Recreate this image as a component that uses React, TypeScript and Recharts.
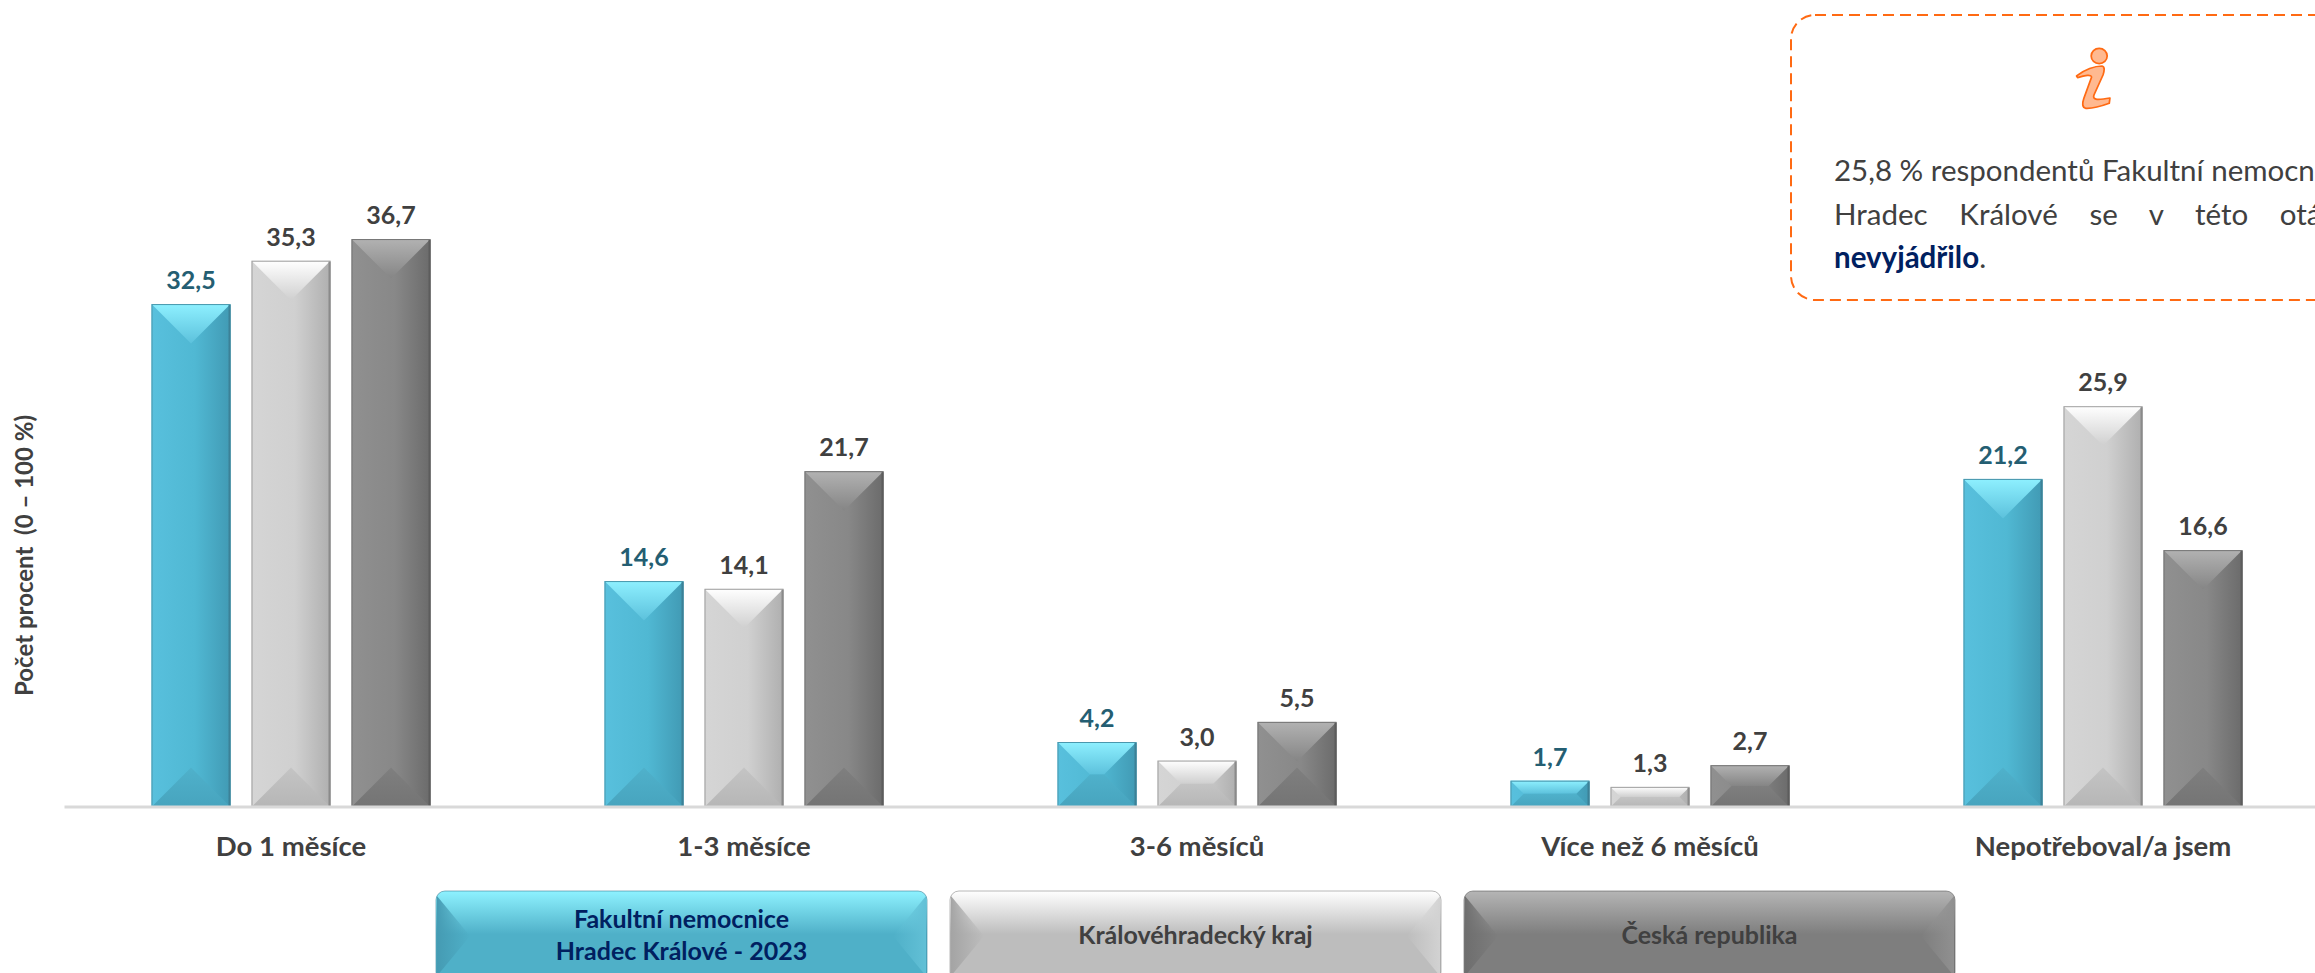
import React from 'react';
import { BarChart, Bar, XAxis, YAxis, LabelList, Legend } from 'recharts';

const categories = ['Do 1 měsíce', '1-3 měsíce', '3-6 měsíců', 'Více než 6 měsíců', 'Nepotřeboval/a jsem'];
const fakultni = [32.5, 14.6, 4.2, 1.7, 21.2];
const kraj = [35.3, 14.1, 3.0, 1.3, 25.9];
const republika = [36.7, 21.7, 5.5, 2.7, 16.6];

const seriesNames = ['Fakultní nemocnice\nHradec Králové - 2023', 'Královéhradecký kraj', 'Česká republika'];

const rows = categories.map((name, i) => ({
    name,
    fakultni: fakultni[i],
    kraj: kraj[i],
    republika: republika[i],
}));

const FONT = 'Lato, sans-serif';
const TEXT = '#404040';

const themes = {
    blue: {
        id: 'blue', stroke: '#4a97ad', edge: '#3c8197',
        body: ['#58c0dd', '#50b8d3', '#419ab4'], top: ['#8ef0ff', '#5cc1dc'], bottom: ['#4fb1cb', '#47a4be'],
        legendTop: '#8ef2ff', legendMid: '#4fb0c8', sideL: '#459bb3', sideR: '#62c0d6', legendText: '#002060',
    },
    light: {
        id: 'light', stroke: '#a0a0a0', edge: '#8a8a8a',
        body: ['#d5d5d5', '#d0d0d0', '#afafaf'], top: ['#ffffff', '#cfcfcf'], bottom: ['#c4c4c4', '#b6b6b6'],
        legendTop: '#ffffff', legendMid: '#bdbdbd', sideL: '#a4a4a4', sideR: '#d2d2d2', legendText: TEXT,
    },
    dark: {
        id: 'dark', stroke: '#757575', edge: '#5c5c5c',
        body: ['#909090', '#888888', '#6b6b6b'], top: ['#b2b2b2', '#858585'], bottom: ['#7f7f7f', '#747474'],
        legendTop: '#b5b5b5', legendMid: '#7e7e7e', sideL: '#6e6e6e', sideR: '#909090', legendText: TEXT,
    },
};
const themeList = [themes.blue, themes.light, themes.dark];

function gradients() {
    return themeList.map((t) => (
        <React.Fragment key={t.id}>
            <linearGradient id={`${t.id}-body`} x1="0" y1="0" x2="1" y2="0">
                <stop offset="0%" stopColor={t.body[0]} />
                <stop offset="55%" stopColor={t.body[1]} />
                <stop offset="100%" stopColor={t.body[2]} />
            </linearGradient>
            <linearGradient id={`${t.id}-top`} x1="0" y1="0" x2="0" y2="1">
                <stop offset="0%" stopColor={t.top[0]} />
                <stop offset="100%" stopColor={t.top[1]} />
            </linearGradient>
            <linearGradient id={`${t.id}-bottom`} x1="0" y1="0" x2="0" y2="1">
                <stop offset="0%" stopColor={t.bottom[0]} />
                <stop offset="100%" stopColor={t.bottom[1]} />
            </linearGradient>
        </React.Fragment>
    ));
}

// Bar with a pillow bevel: lit top wedge, darker bottom wedge
function BevelBar(props: any) {
    const { x, y, width, height, theme } = props;
    if (!height || height <= 0) return null;
    const d = Math.min(width, height) / 2;
    const right = x + width;
    const base = y + height;
    return (
        <g>
            <rect x={x} y={y} width={width} height={height} fill={`url(#${theme.id}-body)`} />
            <polygon
                points={`${x},${y} ${right},${y} ${right - d},${y + d} ${x + d},${y + d}`}
                fill={`url(#${theme.id}-top)`}
            />
            <polygon
                points={`${x},${base} ${right},${base} ${right - d},${base - d} ${x + d},${base - d}`}
                fill={`url(#${theme.id}-bottom)`}
            />
            <rect x={x + 0.5} y={y + 0.5} width={width - 1} height={height - 1} fill="none" stroke={theme.stroke} strokeWidth={1} />
            <line x1={right - 1} y1={y + 1} x2={right - 1} y2={base} stroke={theme.edge} strokeWidth={2} />
        </g>
    );
}

const decimal = (v: any) => Number(v).toFixed(1).replace('.', ',');

function LegendButton({ label, theme, width, height }: any) {
    const lines = String(label).split('\n');
    const bevel = 35;
    return (
        <svg width={width} height={height} style={{ display: 'block' }}>
            <defs>
                <linearGradient id={`${theme.id}-btn`} x1="0" y1="0" x2="0" y2="1">
                    <stop offset="0%" stopColor={theme.legendTop} />
                    <stop offset="48%" stopColor={theme.legendMid} />
                    <stop offset="100%" stopColor={theme.legendMid} />
                </linearGradient>
                <linearGradient id={`${theme.id}-sideL`} x1="0" y1="0" x2="1" y2="0">
                    <stop offset="0%" stopColor={theme.sideL} />
                    <stop offset="100%" stopColor={theme.sideL} stopOpacity={0} />
                </linearGradient>
                <linearGradient id={`${theme.id}-sideR`} x1="1" y1="0" x2="0" y2="0">
                    <stop offset="0%" stopColor={theme.sideR} />
                    <stop offset="100%" stopColor={theme.sideR} stopOpacity={0} />
                </linearGradient>
            </defs>
            <rect x={1} y={1} width={width - 2} height={height - 2} rx={9} fill={`url(#${theme.id}-btn)`} stroke={theme.edge} strokeOpacity={0.6} />
            <polygon points={`2,6 ${bevel},${height / 2} 2,${height - 6}`} fill={`url(#${theme.id}-sideL)`} />
            <polygon points={`${width - 2},6 ${width - bevel},${height / 2} ${width - 2},${height - 6}`} fill={`url(#${theme.id}-sideR)`} />
            {lines.map((line, i) => (
                <text
                    key={line}
                    x={width / 2}
                    y={height / 2 + 8 + (i - (lines.length - 1) / 2) * 32}
                    textAnchor="middle"
                    fontFamily={FONT}
                    fontWeight={700}
                    fontSize={25}
                    fill={theme.legendText}
                >
                    {line}
                </text>
            ))}
        </svg>
    );
}

function ButtonLegend({ payload }: any) {
    return (
        <div style={{ display: 'flex', gap: 21 }}>
            {(payload || []).map((entry: any, i: number) => (
                <LegendButton key={entry.value} label={entry.value} theme={themeList[i]} width={493} height={92} />
            ))}
        </div>
    );
}

function InfoBox() {
    return (
        <div style={{ position: 'absolute', left: 1790, top: 14, width: 640, height: 288, fontFamily: FONT, color: TEXT }}>
            <svg width={640} height={288} style={{ position: 'absolute', left: 0, top: 0 }}>
                <rect x={1} y={1} width={636} height={285} rx={24} fill="none" stroke="#ff6a13" strokeWidth={2} strokeDasharray="11 6" />
                <g transform="translate(-20,-14) scale(0.3476,0.3333)">
                    <circle cx={947} cy={168} r={23} fill="#ffb990" stroke="#ff6a13" strokeWidth={5} />
                    <path
                        d="M882 228 C905 208 935 198 955 198 C964 200 962 212 958 225 L932 285 C928 298 936 302 978 294 L976 310 C950 320 925 326 908 325 C898 322 898 310 903 295 L925 232 C926 222 905 226 885 233 Z"
                        fill="#ffb990"
                        stroke="#ff6a13"
                        strokeWidth={5}
                        strokeLinejoin="round"
                    />
                </g>
            </svg>
            <div style={{ position: 'absolute', left: 44, top: 134, width: 530, fontSize: 29.5, lineHeight: '43.5px' }}>
                <div style={{ whiteSpace: 'nowrap' }}>25,8 % respondentů Fakultní nemocnice</div>
                <div style={{ textAlign: 'justify', textAlignLast: 'justify', whiteSpace: 'nowrap' }}>Hradec Králové se v této otázce</div>
                <div>
                    <b style={{ color: '#002060' }}>nevyjádřilo</b>.
                </div>
            </div>
        </div>
    );
}

export default function App() {
    return (
        <div style={{ position: 'absolute', left: 0, top: 0, width: 2315, height: 973, overflow: 'hidden', background: '#fff' }}>
            <BarChart
                width={2400}
                height={973}
                data={rows}
                margin={{ top: 188, right: 70.5, bottom: 106, left: 4.5 }}
                barSize={79}
                barGap={21}
            >
                <defs>{gradients()}</defs>
                <XAxis
                    dataKey="name"
                    interval={0}
                    height={60}
                    tickLine={false}
                    axisLine={{ stroke: '#d9d9d9', strokeWidth: 3 }}
                    tickMargin={23}
                    tick={{ fill: TEXT, fontSize: 27.5, fontWeight: 700, fontFamily: FONT }}
                />
                <YAxis
                    domain={[0, 40]}
                    width={60}
                    tick={false}
                    axisLine={false}
                    tickLine={false}
                    label={{
                        value: 'Počet procent\u00A0\u00A0(0 – 100 %)',
                        angle: -90,
                        position: 'insideLeft',
                        offset: 20,
                        dy: 58,
                        style: { fill: TEXT, fontSize: 24, fontWeight: 700, fontFamily: FONT, textAnchor: 'middle' },
                    }}
                />
                <Legend
                    layout="horizontal"
                    align="center"
                    verticalAlign="middle"
                    content={<ButtonLegend />}
                    wrapperStyle={{ left: 435, top: 890, width: 1530, height: 92 }}
                />
                <Bar dataKey="fakultni" name={seriesNames[0]} fill={themes.blue.body[0]} isAnimationActive={false} shape={<BevelBar theme={themes.blue} />}>
                    <LabelList dataKey="fakultni" position="top" offset={15} formatter={decimal} fill="#245e72" fontSize={25} fontWeight={700} fontFamily={FONT} />
                </Bar>
                <Bar dataKey="kraj" name={seriesNames[1]} fill={themes.light.body[0]} isAnimationActive={false} shape={<BevelBar theme={themes.light} />}>
                    <LabelList dataKey="kraj" position="top" offset={15} formatter={decimal} fill={TEXT} fontSize={25} fontWeight={700} fontFamily={FONT} />
                </Bar>
                <Bar dataKey="republika" name={seriesNames[2]} fill={themes.dark.body[0]} isAnimationActive={false} shape={<BevelBar theme={themes.dark} />}>
                    <LabelList dataKey="republika" position="top" offset={15} formatter={decimal} fill={TEXT} fontSize={25} fontWeight={700} fontFamily={FONT} />
                </Bar>
            </BarChart>
            <InfoBox />
        </div>
    );
}
